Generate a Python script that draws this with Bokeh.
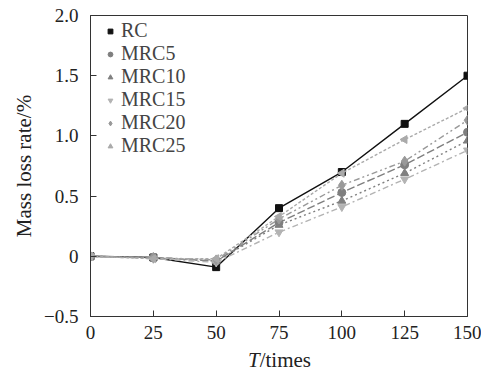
from bokeh.plotting import figure
from bokeh.models import Legend, LegendItem, FixedTicker, Range1d, Div
from bokeh.layouts import column
from bokeh.embed import file_html
from bokeh.resources import INLINE

cycles = [0, 25, 50, 75, 100, 125, 150]
rc     = [0, -0.01, -0.09, 0.40, 0.70, 1.10, 1.50]
mrc5   = [0, -0.01, -0.04, 0.28, 0.53, 0.76, 1.03]
mrc10  = [0, -0.01, -0.04, 0.26, 0.46, 0.69, 0.96]
mrc15  = [0, -0.02, -0.05, 0.20, 0.41, 0.64, 0.88]
mrc20  = [0, -0.01, -0.03, 0.31, 0.59, 0.79, 1.13]
mrc25  = [0, -0.02, -0.02, 0.33, 0.69, 0.97, 1.23]

x_ticks = [0, 25, 50, 75, 100, 125, 150]
y_ticks = [-0.5, 0, 0.5, 1.0, 1.5, 2.0]

series = [
    ("RC",    rc,    "#111111", "square",            "solid",  7),
    ("MRC5",  mrc5,  "#7f7f7f", "circle",            "8 3",    8),
    ("MRC10", mrc10, "#808080", "triangle",          "2 3",    8),
    ("MRC15", mrc15, "#b3b3b3", "inverted_triangle", "6 3 2 3", 8),
    ("MRC20", mrc20, "#999999", "diamond",           "6 3 2 3 2 3", 10),
    ("MRC25", mrc25, "#aaaaaa", "triangle",          "3 2",    8),
]

FONT = "Liberation Serif"

p = figure(width=481, height=345, output_backend="svg", toolbar_location=None,
           x_range=Range1d(0, 150), y_range=Range1d(-0.5, 2.0),
           min_border_left=90, min_border_right=14, min_border_top=15, min_border_bottom=29)
p.grid.visible = False
p.outline_line_color = "#333333"
p.outline_line_width = 1
p.background_fill_color = "white"

items = []
for name, ys, col, mk, dash, sz in series:
    p.line(cycles, ys, line_color=col, line_width=1.4, line_dash=dash)
    if name == "MRC25":
        r = p.scatter(cycles, ys, marker="triangle", angle=1.5708, size=sz,
                      fill_color=col, line_color=col)
    else:
        r = p.scatter(cycles, ys, marker=mk, size=sz, fill_color=col, line_color=col)
    items.append(LegendItem(label=name, renderers=[r]))

legend = Legend(items=items, location=(14, 159), border_line_color=None,
                background_fill_alpha=0, label_text_font=FONT,
                label_text_font_size="20px",
                spacing=0, padding=0,
                margin=0, glyph_width=12, glyph_height=12, label_standoff=5,
                label_height=20)
p.add_layout(legend)

for ax in (p.xaxis[0], p.yaxis[0]):
    ax.major_tick_in = 6
    ax.major_tick_out = 0
    ax.minor_tick_line_color = None
    ax.major_label_text_font = FONT
    ax.major_label_text_font_size = "19px"
    ax.major_label_text_color = "#222222"
    ax.axis_line_color = "#333333"
    ax.major_tick_line_color = "#333333"

p.xaxis.ticker = FixedTicker(ticks=x_ticks)
p.yaxis.ticker = FixedTicker(ticks=y_ticks)
p.yaxis.major_label_overrides = {-0.5: "\u22120.5", 0: "0", 0.5: "0.5", 1.0: "1.0", 1.5: "1.5", 2.0: "2.0"}
p.xaxis.major_label_standoff = 9
p.yaxis.major_label_standoff = 12

p.yaxis.axis_label = "Mass loss rate/%"
p.yaxis.axis_label_text_font = FONT
p.yaxis.axis_label_text_font_style = "normal"
p.yaxis.axis_label_text_font_size = "21px"
p.yaxis.axis_label_text_color = "#222222"
p.yaxis.axis_label_standoff = 5

xlabel = Div(text='<i>T</i>/times', width=481, height=24,
             styles={"font-family": FONT, "font-size": "21px", "color": "#222222",
                     "padding-left": "243px", "line-height": "20px"})

layout = column(p, xlabel, spacing=0)
open("out.html", "w").write(file_html(layout, INLINE))
